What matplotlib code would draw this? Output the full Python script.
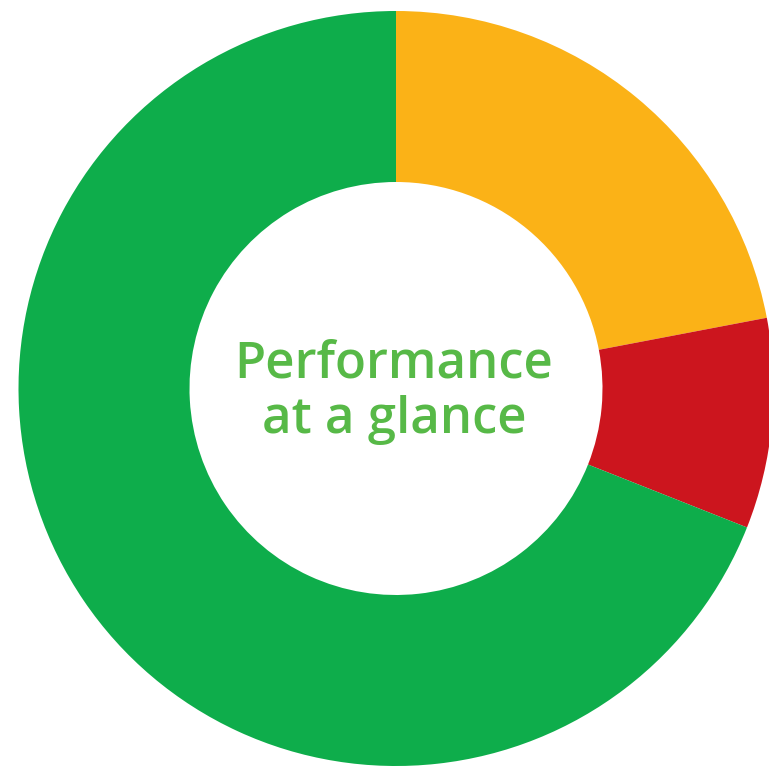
import matplotlib
matplotlib.use("Agg")
import matplotlib.pyplot as plt

# share of results per status, clockwise from 12 o'clock
labels = ["On track", "Off track", "Achieved"]
shares = [22, 9, 69]
colors = ["#FBB217", "#CC151E", "#0EAD4B"]

title_lines = ["Performance", "at a glance"]

W, H = 769, 767
fig = plt.figure(figsize=(W / 100, H / 100), dpi=100)
ax = fig.add_axes([0, 0, 1, 1])

# donut geometry in pixel units (origin bottom-left)
cx, cy = 396, H - 388.5
R_OUT = 377.5
R_IN = 206.5

ax.pie(shares, colors=colors, startangle=90, counterclock=False,
       center=(cx, cy), radius=R_OUT,
       wedgeprops=dict(width=R_OUT - R_IN, linewidth=0, antialiased=True))

ax.set_xlim(0, W)
ax.set_ylim(0, H)
ax.set_aspect("equal")
ax.axis("off")

# two centred lines of caption text inside the hole
baselines = [377, 433]
for txt, row in zip(title_lines, baselines):
    ax.text(cx - 2, H - row, txt, ha="center", va="baseline",
            fontsize=36.6, fontweight="semibold", family=["Open Sans", "DejaVu Sans"],
            color="#57B947")

fig.savefig("out.png", dpi=100)
